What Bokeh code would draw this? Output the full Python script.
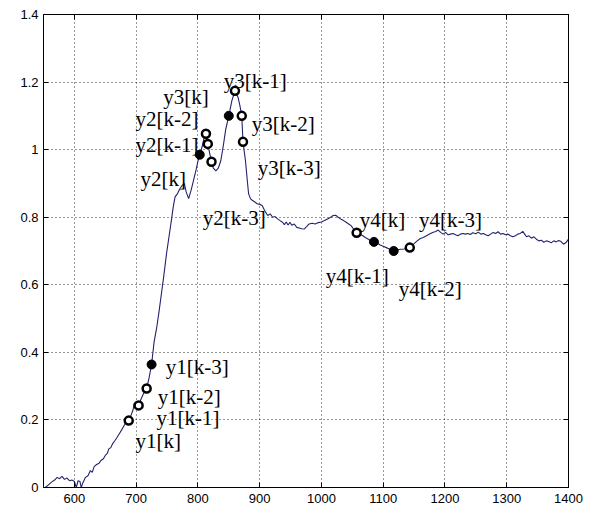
from bokeh.plotting import figure
from bokeh.models import (Range1d, FixedTicker, LinearAxis, CustomJSTickFormatter,
                          ColumnDataSource, CustomLabelingPolicy)
from bokeh.embed import file_html
from bokeh.resources import INLINE
from bokeh.core.properties import value

# ---- data ----
curve_x = [553, 558, 563, 568, 572, 576, 580, 584, 588, 592, 596, 600, 603, 606, 609, 611,
           614, 618, 622, 626, 629, 632, 636, 640, 643, 647, 650, 653, 656, 659, 662, 666,
           669, 673, 677, 681, 685, 688, 692, 695, 697, 700, 704, 708, 712, 717, 721, 725,
           729, 733, 737, 741, 745, 749, 753, 757, 760, 763, 767, 771, 775, 778, 781, 785,
           789, 793, 797, 800, 803, 807, 810, 813, 816, 819, 822, 825, 829, 833, 837, 841,
           845, 850, 855, 860, 865, 868, 871, 873, 877, 880, 882, 885, 888, 892, 896, 900,
           904, 908, 913, 917, 921, 925, 929, 933, 937, 940, 943, 946, 949, 952, 956, 960,
           964, 968, 972, 976, 980, 985, 990, 995, 1000, 1005, 1010, 1015, 1019, 1023, 1027,
           1031, 1036, 1040, 1044, 1048, 1052, 1057, 1062, 1067, 1071, 1076, 1080, 1085, 1090,
           1095, 1100, 1105, 1110, 1117, 1122, 1128, 1134, 1140, 1145, 1150, 1155, 1160, 1165,
           1170, 1175, 1180, 1185, 1189, 1193, 1197, 1201, 1205, 1209, 1213, 1217, 1221, 1225,
           1229, 1233, 1237, 1241, 1245, 1250, 1254, 1258, 1262, 1266, 1270, 1274, 1278, 1282,
           1286, 1290, 1294, 1298, 1302, 1306, 1310, 1314, 1318, 1322, 1326, 1329, 1332, 1336,
           1340, 1344, 1348, 1352, 1356, 1360, 1364, 1368, 1372, 1376, 1380, 1384, 1388, 1392,
           1396, 1400]
curve_y = [0.0, 0.008, 0.016, 0.022, 0.03, 0.026, 0.033, 0.024, 0.028, 0.02, 0.022, 0.018, 0.0, 0.02, 0.018, 0.0,
           0.015, 0.03, 0.035, 0.05, 0.045, 0.062, 0.068, 0.072, 0.08, 0.085, 0.095, 0.10, 0.115, 0.118, 0.13, 0.14,
           0.148, 0.16, 0.172, 0.185, 0.195, 0.198, 0.215, 0.23, 0.25, 0.24, 0.243, 0.262, 0.278, 0.293, 0.325, 0.364,
           0.43, 0.47, 0.52, 0.575, 0.63, 0.69, 0.74, 0.79, 0.83, 0.86, 0.87, 0.885, 0.895, 0.90, 0.875, 0.855,
           0.88, 0.91, 0.94, 0.965, 0.985, 1.01, 1.035, 1.047, 1.017, 0.99, 0.964, 0.945, 0.937, 0.945, 0.967, 1.01,
           1.06, 1.10, 1.145, 1.174, 1.155, 1.13, 1.10, 1.023, 0.967, 0.908, 0.87, 0.855, 0.85, 0.845, 0.84, 0.838,
           0.835, 0.82, 0.805, 0.81, 0.80, 0.802, 0.795, 0.79, 0.785, 0.778, 0.786, 0.777, 0.785, 0.776, 0.78, 0.77,
           0.768, 0.766, 0.765, 0.772, 0.78, 0.782, 0.78, 0.784, 0.786, 0.79, 0.795, 0.80, 0.805, 0.806, 0.80,
           0.795, 0.79, 0.785, 0.78, 0.775, 0.765, 0.754, 0.75, 0.745, 0.74, 0.735, 0.73, 0.727, 0.724,
           0.718, 0.714, 0.71, 0.706, 0.70, 0.703, 0.705, 0.706, 0.71, 0.715, 0.722, 0.73, 0.737, 0.74,
           0.745, 0.75, 0.755, 0.758, 0.762, 0.755, 0.75, 0.755, 0.748, 0.75, 0.752, 0.748, 0.745, 0.75,
           0.752, 0.75, 0.752, 0.749, 0.754, 0.751, 0.756, 0.75, 0.752, 0.748, 0.745, 0.75, 0.755, 0.752,
           0.757, 0.75, 0.752, 0.748, 0.75, 0.745, 0.742, 0.745, 0.75, 0.752, 0.758, 0.75, 0.742, 0.745,
           0.738, 0.742, 0.735, 0.73, 0.732, 0.726, 0.73, 0.728, 0.724, 0.73, 0.727, 0.731, 0.728, 0.72,
           0.725, 0.735]

filled_x = [725, 803, 850, 1085, 1117]
filled_y = [0.364, 0.985, 1.10, 0.727, 0.70]
open_x = [688, 704, 717, 813, 816, 822, 860, 871, 873, 1057, 1143]
open_y = [0.198, 0.243, 0.293, 1.047, 1.017, 0.964, 1.174, 1.10, 1.023, 0.754, 0.71]

label_text = ["y1[k-3]", "y1[k-2]", "y1[k-1]", "y1[k]",
              "y3[k-1]", "y3[k]", "y2[k-2]", "y2[k-1]", "y2[k]", "y2[k-3]",
              "y3[k-2]", "y3[k-3]", "y4[k]", "y4[k-3]", "y4[k-1]", "y4[k-2]"]
label_x = [748, 735, 733, 699, 842, 744, 699, 699, 707, 808, 887, 897, 1062, 1158, 1007, 1125]
label_y = [0.358, 0.269, 0.207, 0.139, 1.203, 1.156, 1.091, 1.014, 0.914, 0.798,
           1.076, 0.946, 0.792, 0.792, 0.627, 0.588]

x_ticks = [600, 700, 800, 900, 1000, 1100, 1200, 1300, 1400]
y_ticks = [0, 0.2, 0.4, 0.6, 0.8, 1.0, 1.2, 1.4]

# ---- figure ----
p = figure(width=591, height=514, output_backend="svg", toolbar_location=None,
           x_range=Range1d(550, 1400), y_range=Range1d(0, 1.4),
           min_border_left=43, min_border_right=23, min_border_top=14, min_border_bottom=27,
           background_fill_color="white", border_fill_color="white")
p.outline_line_color = "black"
p.outline_line_width = 1
p.outline_line_alpha = 1

fmt = CustomJSTickFormatter(code="return String(Math.round(tick*10)/10);")
p.xaxis.ticker = FixedTicker(ticks=x_ticks)
p.yaxis.ticker = FixedTicker(ticks=y_ticks)
p.yaxis.formatter = fmt
for ax in (p.xaxis[0], p.yaxis[0]):
    ax.major_tick_in = 5
    ax.major_tick_out = 0
    ax.minor_tick_line_color = None
    ax.axis_line_color = "black"
    ax.major_tick_line_color = "black"
    ax.major_label_text_font = "Liberation Sans"
    ax.major_label_text_font_size = "13px"
    ax.major_label_text_color = "black"
p.xaxis.major_label_standoff = 6
p.yaxis.major_label_standoff = 5

hide_all = CustomLabelingPolicy(code="for (const i of indices) { indices.unset(i) } return indices")
for loc, tk in (("right", y_ticks), ("above", x_ticks)):
    ax = LinearAxis(ticker=FixedTicker(ticks=tk), major_tick_in=5, major_tick_out=0,
                    minor_tick_line_color=None, major_label_policy=hide_all,
                    major_label_standoff=0, axis_line_color="black",
                    major_tick_line_color="black")
    p.add_layout(ax, loc)

p.xgrid.ticker = FixedTicker(ticks=x_ticks)
p.ygrid.ticker = FixedTicker(ticks=y_ticks)
for g in (p.xgrid[0], p.ygrid[0]):
    g.grid_line_color = "black"
    g.grid_line_dash = "1 3"
    g.grid_line_width = 1
    g.grid_line_alpha = 0.8

p.line(curve_x, curve_y, line_color="#22226e", line_width=1.1)
p.scatter(filled_x, filled_y, size=9, fill_color="black", line_color="black", line_width=1)
p.scatter(open_x, open_y, size=8, fill_color="white", line_color="black", line_width=2.5)

src = ColumnDataSource(dict(x=label_x, y=label_y, t=label_text))
p.text(x="x", y="y", text="t", source=src, text_font=value("Liberation Serif"),
       text_font_size="21px", text_baseline="middle", text_align="left", text_color="black")

open("out.html", "w").write(file_html(p, INLINE))
